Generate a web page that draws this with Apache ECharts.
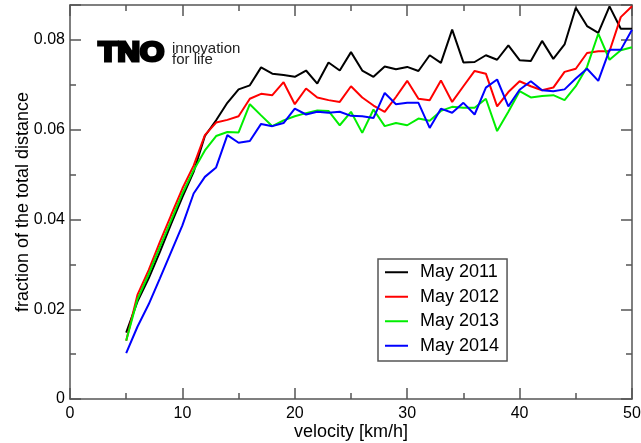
<!DOCTYPE html>
<html>
<head>
<meta charset="utf-8">
<script src="https://cdn.jsdelivr.net/npm/echarts@6/dist/echarts.min.js"></script>
<style>
  html, body { margin: 0; padding: 0; background: #fff; }
  #chart { width: 641px; height: 443px; }
</style>
</head>
<body>
<div id="chart"></div>
<script>
// velocity bins [km/h]
var velocity = [5, 6, 7, 8, 9, 10, 11, 12, 13, 14, 15, 16, 17, 18, 19, 20, 21, 22, 23, 24, 25, 26, 27,
    28, 29, 30, 31, 32, 33, 34, 35, 36, 37, 38, 39, 40, 41, 42, 43, 44, 45, 46, 47, 48, 49, 50];

var may2011 = [0.0148, 0.0217, 0.0269, 0.0328, 0.0390, 0.0450, 0.0506, 0.0586, 0.0621, 0.0660, 0.0690, 0.0699,
    0.0739, 0.0725, 0.0722, 0.0718, 0.0732, 0.0703, 0.0750, 0.0732, 0.0773, 0.0732, 0.0718, 0.0741, 0.0735,
    0.0740, 0.0731, 0.0766, 0.0749, 0.0823, 0.0750, 0.0751, 0.0766, 0.0756, 0.0788, 0.0755, 0.0753, 0.0798,
    0.0758, 0.0790, 0.0872, 0.0831, 0.0816, 0.0875, 0.0825, 0.0825];
var may2012 = [0.0130, 0.0232, 0.0287, 0.0350, 0.0410, 0.0469, 0.0520, 0.0588, 0.0616, 0.0622, 0.0630, 0.0669,
    0.0680, 0.0677, 0.0706, 0.0657, 0.0692, 0.0672, 0.0666, 0.0662, 0.0697, 0.0672, 0.0654, 0.0640, 0.0673,
    0.0709, 0.0669, 0.0666, 0.0710, 0.0662, 0.0697, 0.0731, 0.0725, 0.0652, 0.0684, 0.0708, 0.0697, 0.0688,
    0.0694, 0.0729, 0.0736, 0.0771, 0.0775, 0.0775, 0.0851, 0.0875];
var may2013 = [0.0130, 0.0222, 0.0278, 0.0339, 0.0398, 0.0458, 0.0510, 0.0554, 0.0586, 0.0595, 0.0594, 0.0657,
    0.0632, 0.0608, 0.0621, 0.0630, 0.0637, 0.0643, 0.0642, 0.0610, 0.0640, 0.0593, 0.0645, 0.0608, 0.0615,
    0.0610, 0.0625, 0.0620, 0.0642, 0.0651, 0.0649, 0.0649, 0.0669, 0.0597, 0.0640, 0.0686, 0.0672, 0.0675,
    0.0677, 0.0666, 0.0697, 0.0740, 0.0814, 0.0756, 0.0777, 0.0784];
var may2014 = [0.0102, 0.0161, 0.0211, 0.0269, 0.0328, 0.0387, 0.0458, 0.0495, 0.0516, 0.0588, 0.0571, 0.0575,
    0.0613, 0.0608, 0.0615, 0.0647, 0.0634, 0.0640, 0.0638, 0.0640, 0.0631, 0.0630, 0.0626, 0.0682, 0.0657,
    0.0660, 0.0660, 0.0604, 0.0647, 0.0638, 0.0660, 0.0634, 0.0694, 0.0712, 0.0652, 0.0689, 0.0708, 0.0688,
    0.0686, 0.0690, 0.0714, 0.0736, 0.0709, 0.0778, 0.0778, 0.0823];

var seriesNames = ['May 2011', 'May 2012', 'May 2013', 'May 2014'];
var seriesColors = ['#000000', '#ff0000', '#00ee00', '#0000ff'];
var seriesData = [may2011, may2012, may2013, may2014];

var font = 'Liberation Sans, Arial, sans-serif';
var axisColor = '#555';

function pairs(values) {
    return velocity.map(function(v, i) { return [v, values[i]]; });
}

function xAxis(pos, labels) {
    return {
        type: 'value', position: pos, min: 0, max: 50, interval: 10,
        name: labels ? 'velocity [km/h]' : '', nameLocation: 'middle', nameGap: 24, nameMoveOverlap: false,
        nameTextStyle: { fontSize: 18, color: '#000', fontFamily: font },
        axisLine: { show: true, onZero: false, lineStyle: { color: axisColor, width: 1.5 } },
        axisTick: { show: true, inside: true, length: 11, lineStyle: { color: axisColor, width: 1.5 } },
        minorTick: { show: true, splitNumber: 2, length: 6, lineStyle: { color: axisColor, width: 1.5 } },
        axisLabel: { show: labels, fontSize: 16, color: '#000', fontFamily: font, margin: 7 },
        splitLine: { show: false }
    };
}

function yAxis(pos, labels) {
    return {
        type: 'value', position: pos, min: 0, max: 0.0878, interval: 0.02,
        name: labels ? 'fraction of the total distance' : '', nameLocation: 'middle', nameGap: 38,
        nameMoveOverlap: false,
        nameTextStyle: { fontSize: 18, color: '#000', fontFamily: font },
        axisLine: { show: true, onZero: false, lineStyle: { color: axisColor, width: 1.5 } },
        axisTick: { show: true, inside: true, length: 11, lineStyle: { color: axisColor, width: 1.5 } },
        minorTick: { show: true, splitNumber: 2, length: 6, lineStyle: { color: axisColor, width: 1.5 } },
        axisLabel: { show: labels, fontSize: 16, color: '#000', fontFamily: font, margin: 5, showMaxLabel: false },
        splitLine: { show: false }
    };
}

var chart = echarts.init(document.getElementById('chart'), null, { renderer: 'canvas' });

chart.setOption({
    backgroundColor: '#fff',
    animation: false,
    grid: { left: 70, right: 9, top: 5, bottom: 44, containLabel: false, outerBoundsMode: 'none' },
    xAxis: [xAxis('bottom', true), xAxis('top', false)],
    yAxis: [yAxis('left', true), yAxis('right', false)],
    legend: {
        orient: 'vertical', left: 378, top: 259,
        data: seriesNames,
        icon: 'rect', itemWidth: 23, itemHeight: 2, itemGap: 4,
        borderColor: axisColor, borderWidth: 1.5, padding: [3, 8, 5, 7],
        textStyle: { fontSize: 18, color: '#000', fontFamily: font, lineHeight: 20.5, padding: [0, 0, 0, 7] }
    },
    graphic: [
        // TNO logo
        { type: 'text', x: 98.5, y: 54, scaleX: 1.15,
          style: { text: 'TNO', fontSize: 27, fontWeight: 'bold', fontFamily: font, fill: '#000',
                   stroke: '#000', lineWidth: 3, lineJoin: 'round', verticalAlign: 'middle' } },
        { type: 'text', x: 172, y: 48.5,
          style: { text: 'innovation', fontSize: 15, fontFamily: font, fill: '#222', verticalAlign: 'middle' } },
        { type: 'text', x: 172, y: 59.5,
          style: { text: 'for life', fontSize: 15, fontFamily: font, fill: '#222', verticalAlign: 'middle' } }
    ],
    series: seriesData.map(function(values, i) {
        return {
            name: seriesNames[i], type: 'line', data: pairs(values),
            showSymbol: false, color: seriesColors[i],
            lineStyle: { width: 2, color: seriesColors[i] }
        };
    })
});
</script>
</body>
</html>
